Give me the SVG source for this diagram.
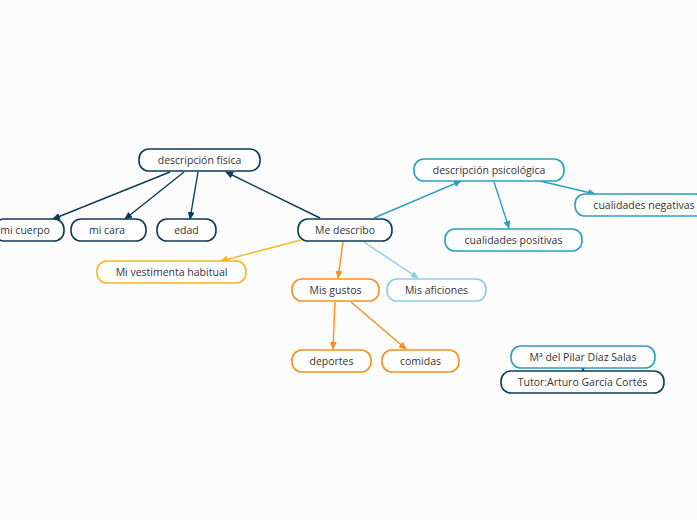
<svg xmlns="http://www.w3.org/2000/svg" width="697" height="520" viewBox="0 0 697 520">
<style>
.n rect{fill:#fff;stroke-width:1.6}
.n text{font-family:"Open Sans","DejaVu Sans",sans-serif;font-size:10.5px;fill:#333;text-anchor:middle;dominant-baseline:central}
.d rect{stroke:#0f3b55}
.c rect{stroke:#2aa0c0}
.o rect{stroke:#f5901e}
.y rect{stroke:#f9b520}
.l rect{stroke:#8ecbe6}
#edges path{fill:none;stroke-width:1.4}
</style>
<defs>
<marker id="md" markerWidth="8" markerHeight="8" refX="7" refY="4" orient="auto" markerUnits="userSpaceOnUse"><path d="M0,0.5L8,4L0,7.5z" fill="#0f3b55"/></marker>
<marker id="mc" markerWidth="8" markerHeight="8" refX="7" refY="4" orient="auto" markerUnits="userSpaceOnUse"><path d="M0,0.5L8,4L0,7.5z" fill="#2aa0c0"/></marker>
<marker id="mo" markerWidth="8" markerHeight="8" refX="7" refY="4" orient="auto" markerUnits="userSpaceOnUse"><path d="M0,0.5L8,4L0,7.5z" fill="#f5901e"/></marker>
<marker id="my" markerWidth="8" markerHeight="8" refX="7" refY="4" orient="auto" markerUnits="userSpaceOnUse"><path d="M0,0.5L8,4L0,7.5z" fill="#f9b520"/></marker>
<marker id="ml" markerWidth="8" markerHeight="8" refX="7" refY="4" orient="auto" markerUnits="userSpaceOnUse"><path d="M0,0.5L8,4L0,7.5z" fill="#8ecbe6"/></marker>
</defs>
<rect width="697" height="520" fill="#fcfcfc"/>
<g id="edges">
<path d="M170,172L53,219" stroke="#0f3b55" marker-end="url(#md)"/>
<path d="M184,172L125,219" stroke="#0f3b55" marker-end="url(#md)"/>
<path d="M198,172L190,219" stroke="#0f3b55" marker-end="url(#md)"/>
<path d="M320,218L226,172" stroke="#0f3b55" marker-end="url(#md)"/>
<path d="M374,218L461,181" stroke="#2aa0c0" marker-end="url(#mc)"/>
<path d="M540,181L595,194" stroke="#2aa0c0" marker-end="url(#mc)"/>
<path d="M494,182L509,228" stroke="#2aa0c0" marker-end="url(#mc)"/>
<path d="M301,240L221,261" stroke="#f9b520" marker-end="url(#my)"/>
<path d="M343,242L338,278" stroke="#f5901e" marker-end="url(#mo)"/>
<path d="M364,242L418,278" stroke="#8ecbe6" marker-end="url(#ml)"/>
<path d="M335,302L333,349" stroke="#f5901e" marker-end="url(#mo)"/>
<path d="M351,302L406,349" stroke="#f5901e" marker-end="url(#mo)"/>
<path d="M583,366L583,371" stroke="#0f3b55" marker-end="url(#md)"/>
</g>
<g id="fisica" class="n d"><rect x="139" y="149" width="121" height="22" rx="10"/><text x="199.5" y="160">descripción física</text></g>
<g id="cuerpo" class="n d"><rect x="-6" y="219" width="70" height="22" rx="10"/><text x="25" y="230">mi cuerpo</text></g>
<g id="cara" class="n d"><rect x="71" y="219" width="75" height="22" rx="10"/><text x="107" y="230">mi cara</text></g>
<g id="edad" class="n d"><rect x="157" y="219" width="59" height="22" rx="10"/><text x="186.5" y="230">edad</text></g>
<g id="me" class="n d"><rect x="298" y="219" width="94" height="22" rx="10"/><text x="345" y="230">Me describo</text></g>
<g id="psico" class="n c"><rect x="414" y="159" width="150" height="22" rx="10"/><text x="489" y="170">descripción psicológica</text></g>
<g id="negativas" class="n c"><rect x="575" y="194" width="130" height="22" rx="10"/><text x="644" y="205">cualidades negativas</text></g>
<g id="positivas" class="n c"><rect x="445" y="229" width="137" height="22" rx="10"/><text x="513.5" y="240">cualidades positivas</text></g>
<g id="vestimenta" class="n y"><rect x="97" y="261" width="149" height="22" rx="10"/><text x="171.5" y="272">Mi vestimenta habitual</text></g>
<g id="gustos" class="n o"><rect x="292" y="279" width="87" height="22" rx="10"/><text x="335.5" y="290">Mis gustos</text></g>
<g id="aficiones" class="n l"><rect x="387" y="279" width="99" height="22" rx="10"/><text x="436.5" y="290">Mis aficiones</text></g>
<g id="deportes" class="n o"><rect x="292" y="350" width="79" height="22" rx="10"/><text x="331.5" y="361">deportes</text></g>
<g id="comidas" class="n o"><rect x="382" y="350" width="77" height="22" rx="10"/><text x="420.5" y="361">comidas</text></g>
<g id="pilar" class="n c"><rect x="511" y="346" width="144" height="22" rx="10"/><text x="583" y="357">Mª del Pilar Díaz Salas</text></g>
<g id="tutor" class="n d"><rect x="501" y="371" width="163" height="22" rx="10"/><text x="582.5" y="382">Tutor:Arturo García Cortés</text></g>
</svg>
